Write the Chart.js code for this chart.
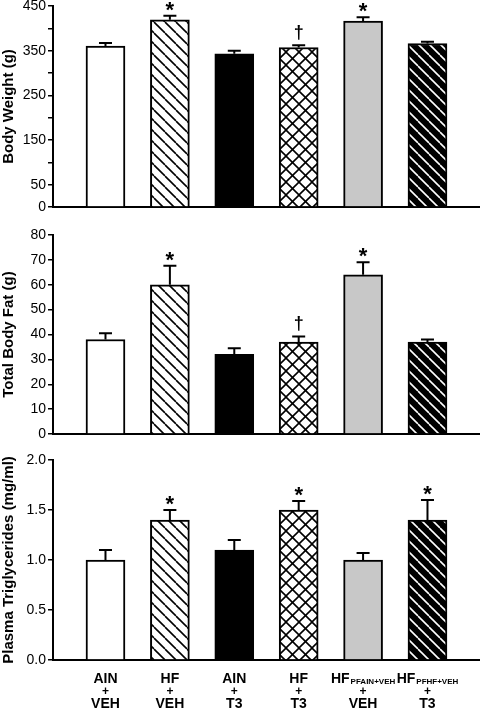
<!DOCTYPE html>
<html>
<head>
<meta charset="utf-8">
<script src="https://cdn.jsdelivr.net/npm/chart.js@4.4.0/dist/chart.umd.min.js"></script>
<style>
body { margin: 0; background: #fff; width: 480px; height: 708px; overflow: hidden; position: relative; }
canvas { position: absolute; left: 0; }
</style>
</head>
<body>
<canvas id="c1" width="480" height="215" style="top:0px"></canvas>
<canvas id="c2" width="480" height="225" style="top:215px"></canvas>
<canvas id="c3" width="480" height="268" style="top:440px"></canvas>
<script>
// group labels (bottom of the last panel)
var groupTop = ["AIN", "HF", "AIN", "HF", "HF", "HF"];
var groupSub = ["", "", "", "", "PFAIN+VEH", "PFHF+VEH"];
var groupBottom = ["VEH", "VEH", "T3", "T3", "VEH", "T3"];

var bodyWeight = [360, 419, 343, 357, 416, 366];
var bodyWeightErr = [7, 9, 7, 5, 9, 4];
var bodyWeightMark = ["", "*", "", "†", "*", ""];

var bodyFat = [38, 60, 32, 37, 64, 37];
var bodyFatErr = [2.5, 7.6, 2.5, 2.2, 5, 1];
var bodyFatMark = ["", "*", "", "†", "*", ""];

var trig = [1.0, 1.4, 1.1, 1.5, 1.0, 1.4];
var trigErr = [0.1, 0.1, 0.1, 0.09, 0.07, 0.2];
var trigMark = ["", "*", "", "*", "", "*"];

var FONT = "'Liberation Sans', Arial, sans-serif";

function hatch(bg, fg, size, dirs) {
	var c = document.createElement("canvas");
	c.width = size;
	c.height = size;
	var g = c.getContext("2d");
	g.fillStyle = bg;
	g.fillRect(0, 0, size, size);
	g.strokeStyle = fg;
	g.lineWidth = 1.6;
	dirs.forEach(function(d) {
		for (var k = -1; k <= 1; k++) {
			g.beginPath();
			if (d == "\\") {
				g.moveTo(k * size, 0);
				g.lineTo(k * size + size, size);
			} else {
				g.moveTo(k * size, size);
				g.lineTo(k * size + size, 0);
			}
			g.stroke();
		}
	});
	return g.createPattern(c, "repeat");
}

var fills = [
	"#ffffff",
	hatch("#ffffff", "#000000", 11, ["\\"]),
	"#000000",
	hatch("#ffffff", "#000000", 13, ["\\", "/"]),
	"#c8c8c8",
	hatch("#000000", "#ffffff", 11, ["\\"])
];

// error bars (upper half only) and significance marks
var errPlugin = {
	id: "errorMarks",
	afterDatasetsDraw: function(chart, args, opts) {
		var ctx = chart.ctx, xs = chart.scales.x, ys = chart.scales.y;
		var data = chart.data.datasets[0].data;
		ctx.save();
		ctx.strokeStyle = "#000";
		ctx.lineWidth = 2;
		data.forEach(function(p, i) {
			var x = xs.getPixelForValue(p.x);
			var y0 = ys.getPixelForValue(p.y);
			var y1 = ys.getPixelForValue(p.y + opts.errs[i]);
			ctx.beginPath();
			ctx.moveTo(x, y0);
			ctx.lineTo(x, y1);
			ctx.moveTo(x - 6.5, y1);
			ctx.lineTo(x + 6.5, y1);
			ctx.stroke();
			var m = opts.marks[i];
			if (m) {
				ctx.font = m == "*" ? "bold 22px " + FONT : "bold 18px " + FONT;
				ctx.fillStyle = "#000";
				ctx.textAlign = "center";
				ctx.textBaseline = "alphabetic";
				var d = ctx.measureText(m).actualBoundingBoxDescent;
				ctx.fillText(m, x, y1 - 5 - d);
			}
		});
		ctx.restore();
	}
};

var labelPlugin = {
	id: "groupLabels",
	afterDraw: function(chart) {
		var ctx = chart.ctx, xs = chart.scales.x, base = chart.chartArea.bottom;
		ctx.save();
		ctx.fillStyle = "#000";
		ctx.textBaseline = "alphabetic";
		groupTop.forEach(function(t, i) {
			var x = xs.getPixelForValue(i);
			ctx.font = "bold 14px " + FONT;
			var w1 = ctx.measureText(t).width;
			ctx.font = "bold 8px " + FONT;
			var w2 = groupSub[i] ? ctx.measureText(groupSub[i]).width + 1 : 0;
			var left = x - (w1 + w2) / 2;
			ctx.textAlign = "left";
			ctx.font = "bold 14px " + FONT;
			ctx.fillText(t, left, base + 23);
			if (groupSub[i]) {
				ctx.font = "bold 8px " + FONT;
				ctx.fillText(groupSub[i], left + w1 + 1, base + 23.5);
			}
			ctx.textAlign = "center";
			ctx.font = "bold 12px " + FONT;
			ctx.fillText("+", x, base + 34.5);
			ctx.font = "bold 14px " + FONT;
			ctx.fillText(groupBottom[i], x, base + 47.5);
		});
		ctx.restore();
	}
};

function makeChart(id, values, errs, marks, yMax, yStep, tickFn, title, pad, withLabels) {
	var pts = values.map(function(v, i) { return {x: i, y: v}; });
	var plugins = [errPlugin];
	if (withLabels) plugins.push(labelPlugin);
	return new Chart(document.getElementById(id), {
		type: "bar",
		data: {
			datasets: [{
				data: pts,
				backgroundColor: fills,
				borderColor: "#000",
				borderWidth: 2,
				barThickness: 39,
				borderSkipped: "bottom"
			}]
		},
		options: {
			responsive: false,
			animation: false,
			layout: { padding: { top: pad[0], bottom: pad[1], left: 0, right: 1 } },
			plugins: {
				legend: { display: false },
				tooltip: { enabled: false },
				errorMarks: { errs: errs, marks: marks }
			},
			scales: {
				x: {
					type: "linear",
					min: -0.815,
					max: 5.8,
					offset: false,
					z: 1,
					grid: { display: false, drawTicks: false, offset: false },
					ticks: { display: false },
					border: { color: "#000", width: 2 },
					afterFit: function(s) { s.height = 0; }
				},
				y: {
					min: 0,
					max: yMax,
					ticks: {
						stepSize: yStep,
						callback: tickFn,
						color: "#000",
						font: { size: 14, family: FONT },
						padding: 2,
						autoSkip: false
					},
					grid: { drawOnChartArea: false, drawTicks: true, tickLength: 5, color: "#000", lineWidth: 1.5 },
					border: { color: "#000", width: 2 },
					title: {
						display: true,
						text: title,
						color: "#000",
						font: { size: 15, weight: "bold", family: FONT },
						padding: 0
					},
					afterFit: function(s) { s.width = 53; s.paddingTop = 0; s.paddingBottom = 0; }
				}
			}
		},
		plugins: plugins
	});
}

makeChart("c1", bodyWeight, bodyWeightErr, bodyWeightMark, 450, 50,
	function(v) { return (v === 0 || v % 100 === 50) ? v : ""; },
	"Body Weight (g)", [6, 8], false);

makeChart("c2", bodyFat, bodyFatErr, bodyFatMark, 80, 10,
	function(v) { return v; },
	"Total Body Fat (g)", [20, 6], false);

makeChart("c3", trig, trigErr, trigMark, 2, 0.5,
	function(v) { return v.toFixed(1); },
	"Plasma Triglycerides (mg/ml)", [20, 48], true);
</script>
</body>
</html>
